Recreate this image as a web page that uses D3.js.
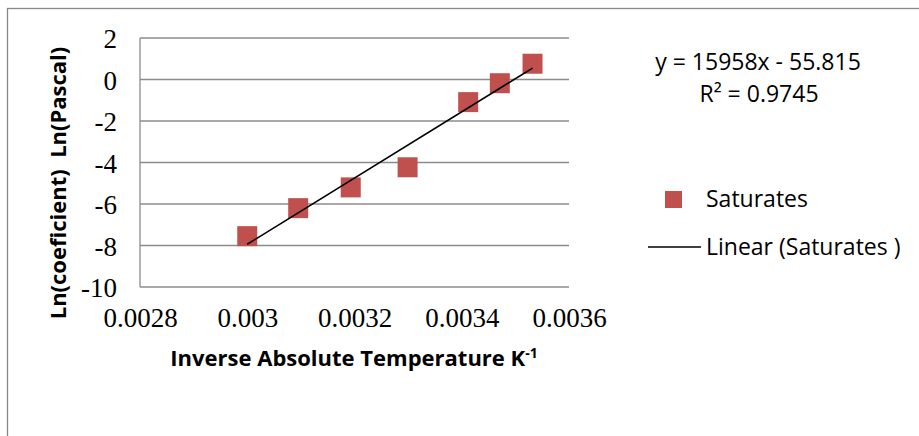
<!DOCTYPE html>
<html>
<head>
<meta charset="utf-8">
<script src="https://cdn.jsdelivr.net/npm/d3@7"></script>
<style>
  body { margin: 0; background: #fff; }
  svg { display: block; }
</style>
</head>
<body>
<div id="viz"></div>
<script>
(function() {

    var width = 919;
    var height = 436;

    // data
    var invTemp = [0.003, 0.003095, 0.003193, 0.003299, 0.003412, 0.003471, 0.003532];
    var lnCoef  = [-7.55, -6.2, -5.2, -4.23, -1.09, -0.18, 0.76];
    var xTicks = [0.0028, 0.003, 0.0032, 0.0034, 0.0036];
    var yTicks = [-10, -8, -6, -4, -2, 0, 2];
    var trendSlope = 15958;
    var trendIntercept = -55.815;
    var trendR2 = 0.9745;
    var seriesName = "Saturates";

    var sansFont = "Open Sans";
    var serifFont = "Liberation Serif";

    var svg = d3.select("#viz")
        .append("svg")
        .attr("width", width)
        .attr("height", height);

    // outer chart border (runs off the right and bottom of the picture)
    svg.append("rect")
        .attr("x", 7.5)
        .attr("y", 8.5)
        .attr("width", 930)
        .attr("height", 440)
        .attr("fill", "none")
        .attr("stroke", "#888")
        .attr("stroke-width", 1.3);

    var plot = {left: 140, right: 569, top: 38, bottom: 287};

    var x = d3.scaleLinear().domain([0.0028, 0.0036]).range([plot.left, plot.right]);
    var y = d3.scaleLinear().domain([-10, 2]).range([plot.bottom, plot.top]);

    // horizontal gridlines
    svg.append("g")
        .selectAll("line")
        .data(yTicks)
        .enter().append("line")
        .attr("x1", plot.left)
        .attr("x2", plot.right)
        .attr("y1", function(d) { return y(d) })
        .attr("y2", function(d) { return y(d) })
        .attr("stroke", "#8c8c8c")
        .attr("stroke-width", 1.3);

    // left axis line
    svg.append("line")
        .attr("x1", plot.left).attr("x2", plot.left)
        .attr("y1", plot.top).attr("y2", plot.bottom)
        .attr("stroke", "#8c8c8c")
        .attr("stroke-width", 1.3);

    // y tick labels (plain hyphen, like the original)
    var yAxis = svg.append("g")
        .attr("transform", "translate(" + plot.left + ",0)")
        .call(d3.axisLeft(y).tickValues(yTicks).tickSize(0).tickPadding(23)
            .tickFormat(function(d) { return String(d) }));
    yAxis.select(".domain").remove();
    yAxis.selectAll("text")
        .attr("font-family", serifFont)
        .attr("font-size", "27px")
        .attr("dy", "0.36em")
        .attr("fill", "#000");

    // x tick labels
    var xAxis = svg.append("g")
        .attr("transform", "translate(0," + plot.bottom + ")")
        .call(d3.axisBottom(x).tickValues(xTicks).tickSize(0).tickPadding(21)
            .tickFormat(function(d) { return String(+d.toFixed(4)) }));
    xAxis.select(".domain").remove();
    xAxis.selectAll("text")
        .attr("font-family", serifFont)
        .attr("font-size", "27px")
        .attr("fill", "#000");

    // axis titles
    var xTitle = svg.append("text")
        .attr("x", 354)
        .attr("y", 366)
        .attr("text-anchor", "middle")
        .attr("font-family", sansFont)
        .attr("font-weight", "bold")
        .attr("font-size", "22px")
        .text("Inverse Absolute Temperature K");
    xTitle.append("tspan")
        .attr("dy", -8)
        .attr("font-size", "14px")
        .text("-1");

    svg.append("text")
        .attr("transform", "translate(66,183) rotate(-90)")
        .attr("text-anchor", "middle")
        .attr("font-family", sansFont)
        .attr("font-weight", "bold")
        .attr("font-size", "22px")
        .style("white-space", "pre")
        .text("Ln(coeficient)  Ln(Pascal)");

    // data points
    var pts = invTemp.map(function(d, i) { return {x: d, y: lnCoef[i]} });
    var size = 20;
    svg.append("g")
        .selectAll("rect")
        .data(pts)
        .enter().append("rect")
        .attr("x", function(d) { return x(d.x) - size / 2 })
        .attr("y", function(d) { return y(d.y) - size / 2 })
        .attr("width", size)
        .attr("height", size)
        .attr("fill", "#c0504d");

    // linear trendline over the data range
    var xExt = d3.extent(invTemp);
    svg.append("line")
        .attr("x1", x(xExt[0]))
        .attr("y1", y(trendSlope * xExt[0] + trendIntercept))
        .attr("x2", x(xExt[1]))
        .attr("y2", y(trendSlope * xExt[1] + trendIntercept))
        .attr("stroke", "#000")
        .attr("stroke-width", 1.6);

    // equation label
    svg.append("text")
        .attr("x", 758)
        .attr("y", 70)
        .attr("text-anchor", "middle")
        .attr("font-family", sansFont)
        .attr("font-size", "23px")
        .text("y = " + trendSlope + "x - " + Math.abs(trendIntercept));
    svg.append("text")
        .attr("x", 759)
        .attr("y", 102)
        .attr("text-anchor", "middle")
        .attr("font-family", sansFont)
        .attr("font-size", "23px")
        .text("R\u00B2 = " + trendR2);

    // legend
    var legend = svg.append("g");
    legend.append("rect")
        .attr("x", 665).attr("y", 191)
        .attr("width", 17).attr("height", 17)
        .attr("fill", "#c0504d");
    legend.append("text")
        .attr("x", 706).attr("y", 207)
        .attr("font-family", sansFont)
        .attr("font-size", "23px")
        .text(seriesName);
    legend.append("line")
        .attr("x1", 648).attr("x2", 701)
        .attr("y1", 247).attr("y2", 247)
        .attr("stroke", "#000")
        .attr("stroke-width", 1.6);
    legend.append("text")
        .attr("x", 706).attr("y", 255)
        .attr("font-family", sansFont)
        .attr("font-size", "23px")
        .style("white-space", "pre")
        .text("Linear (" + seriesName + " )");

})();
</script>
</body>
</html>
